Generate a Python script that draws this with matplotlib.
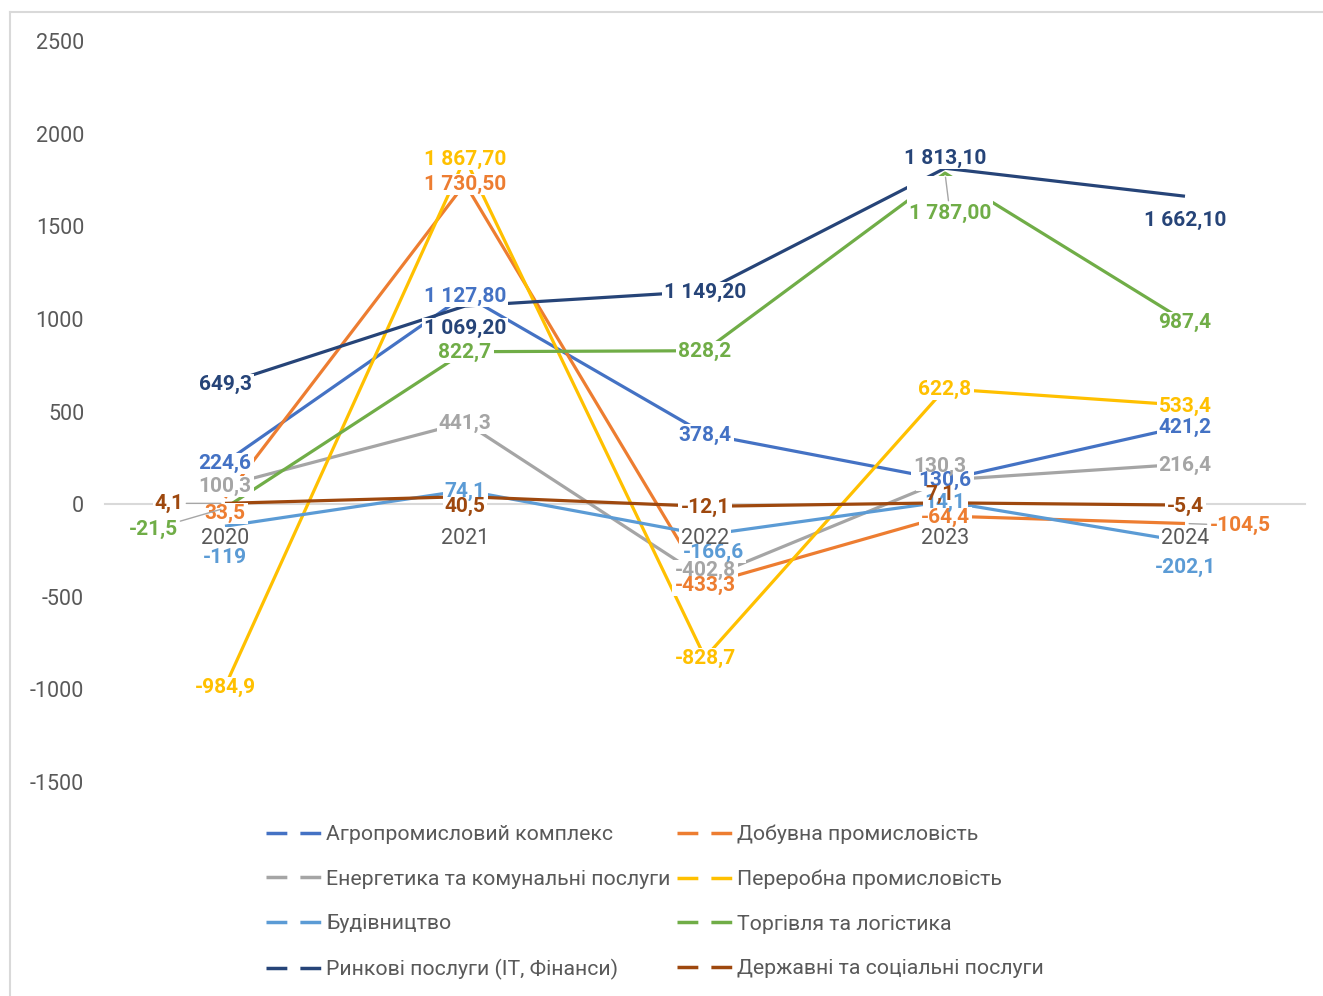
import matplotlib
matplotlib.use("Agg")
import matplotlib.pyplot as plt
from matplotlib.lines import Line2D
from matplotlib.patches import Rectangle

plt.rcParams["font.family"] = ["Roboto", "DejaVu Sans"]
plt.rcParams["lines.scale_dashes"] = False
plt.rcParams["axes.unicode_minus"] = False

Years = ["2020", "2021", "2022", "2023", "2024"]

SeriesNames = [
    "Агропромисловий комплекс",
    "Добувна промисловість",
    "Енергетика та комунальні послуги",
    "Переробна промисловість",
    "Будівництво",
    "Торгівля та логістика",
    "Ринкові послуги (IT, Фінанси)",
    "Державні та соціальні послуги",
]

Agro = [224.6, 1127.8, 378.4, 130.6, 421.2]
Mining = [33.5, 1730.5, -433.3, -64.4, -104.5]
Energy = [100.3, 441.3, -402.8, 130.3, 216.4]
Processing = [-984.9, 1867.7, -828.7, 622.8, 533.4]
Construction = [-119.0, 74.1, -166.6, 14.1, -202.1]
Trade = [-21.5, 822.7, 828.2, 1787.0, 987.4]
Market = [649.3, 1069.2, 1149.2, 1813.1, 1662.1]
State = [4.1, 40.5, -12.1, 7.1, -5.4]

AllSeries = [Agro, Mining, Energy, Processing, Construction, Trade, Market, State]

Colors = ["#4472C4", "#ED7D31", "#A5A5A5", "#FFC000",
          "#5B9BD5", "#70AD47", "#264478", "#9E480E"]

# label shifts in pixels (right, down) from the point, where Excel labels were dragged
LabelShift = {
    (1, 0): (0, 16), (1, 4): (55, 2),
    (2, 2): (0, -8), (2, 3): (-5, -14),
    (4, 0): (0, 31), (4, 2): (8, 17), (4, 4): (0, 26),
    (5, 0): (-72, 21), (5, 3): (5, 40),
    (6, 1): (0, 22), (6, 3): (0, -10), (6, 4): (0, 24),
    (7, 0): (-56, 0), (7, 1): (0, 10), (7, 3): (-5, -8),
}
LeaderLines = [(1, 4), (5, 0), (5, 3), (7, 0)]


def formatValue(value, seriesIndex):
    # big values are shown with a space separator and 2 decimals like the source
    if abs(value) >= 1000:
        return f"{value:,.2f}".replace(",", " ").replace(".", ",")
    if value == int(value) and seriesIndex == 4:
        return str(int(value))
    return f"{value:.1f}".replace(".", ",")


fig = plt.figure(figsize=(13.23, 9.96), dpi=100)
ax = fig.add_axes([105 / 1323, 1 - 782 / 996, 1200 / 1323, 741 / 996])

xs = list(range(len(Years)))
for i, values in enumerate(AllSeries):
    ax.plot(xs, values, color=Colors[i], linewidth=2.3, zorder=2,
            solid_capstyle="butt")

labels = []
for i, values in enumerate(AllSeries):
    for j, value in enumerate(values):
        dx, dy = LabelShift.get((i, j), (0, 1))
        arrow = None
        if (i, j) in LeaderLines:
            arrow = dict(arrowstyle="-", color="#A6A6A6", lw=1.0,
                         shrinkA=0, shrinkB=3)
        labels.append(ax.annotate(
            formatValue(value, i), (j, value), xytext=(dx, -dy),
            textcoords="offset pixels", ha="center", va="center",
            fontsize=15, fontweight="bold", color=Colors[i],
            arrowprops=arrow, zorder=4))

# category labels sit next to the zero line
for j, year in enumerate(Years):
    labels.append(ax.annotate(
        year, (j, 0), xytext=(0, -34), textcoords="offset pixels",
        ha="center", va="center", fontsize=15.5, color="#595959", zorder=4))

ax.set_xlim(-0.5, 4.5)
ax.set_ylim(-1500, 2500)
ax.set_yticks(range(-1500, 2501, 500))
ax.set_xticks([])
ax.tick_params(axis="both", length=0, labelsize=15.5, labelcolor="#595959")
ax.tick_params(axis="y", pad=15)
for side in ["top", "right", "left"]:
    ax.spines[side].set_visible(False)
ax.spines["bottom"].set_position(("data", 0))
ax.spines["bottom"].set_color("#D9D9D9")
ax.spines["bottom"].set_linewidth(1.5)
ax.spines["bottom"].set_zorder(1)

# legend filled row by row like Excel
order = [0, 2, 4, 6, 1, 3, 5, 7]
handles = [Line2D([0], [0], color=Colors[k], linewidth=2.5, dashes=(15, 9.4))
           for k in order]
fig.legend(handles, [SeriesNames[k] for k in order], loc="center", ncol=2,
           bbox_to_anchor=(0.495, 0.094), frameon=False, fontsize=15.3,
           labelcolor="#595959", handlelength=2.6, handletextpad=0.25,
           columnspacing=0.3, labelspacing=1.2)

# chart area border (only top and left visible in the crop)
fig.add_artist(Line2D([10 / 1323, 1], [1 - 12 / 996, 1 - 12 / 996],
                      color="#D9D9D9", linewidth=1.5))
fig.add_artist(Line2D([10 / 1323, 10 / 1323], [0, 1 - 12 / 996],
                      color="#D9D9D9", linewidth=1.5))

# white boxes behind the labels so the lines get a gap around them
fig.canvas.draw()
renderer = fig.canvas.get_renderer()
for label in labels:
    box = label.get_window_extent(renderer)
    fig.add_artist(Rectangle((box.x0 - 2, box.y0 - 1), box.width + 4,
                             box.height + 2, transform=None, facecolor="white",
                             edgecolor="none", zorder=0.5))
    fig.artists[-1].set_clip_on(False)

# put the boxes on the axes layer: draw them over lines but under texts
for patch in list(fig.artists):
    if isinstance(patch, Rectangle):
        patch.remove()
        patch.set_zorder(2.5)
        ax.add_artist(patch)

fig.savefig("out.png", dpi=100)
